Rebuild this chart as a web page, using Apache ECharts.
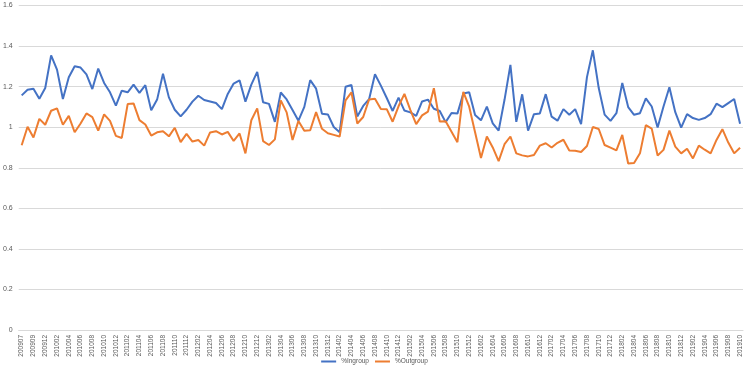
<!DOCTYPE html>
<html>
<head>
<meta charset="utf-8">
<script src="https://cdn.jsdelivr.net/npm/echarts@6/dist/echarts.min.js"></script>
<style>html,body{margin:0;padding:0;background:#fff}#c{width:749px;height:371px}</style>
</head>
<body>
<div id="c"></div>
<script>
const categories = [
"200907","200908","200909","200910","200912",
"201001","201002","201003","201004","201005","201006","201007","201008","201009","201010","201011","201012",
"201101","201102","201103","201104","201105","201106","201107","201108","201109","201110","201111","201112",
"201201","201202","201203","201204","201205","201206","201207","201208","201209","201210","201211","201212",
"201301","201302","201303","201304","201305","201306","201307","201308","201309","201310","201311","201312",
"201401","201402","201403","201404","201405","201406","201407","201408","201409","201410","201411","201412",
"201501","201502","201503","201504","201505","201506","201507","201508","201509","201510","201511","201512",
"201601","201602","201603","201604","201605","201606","201607","201608","201609","201610","201611","201612",
"201701","201702","201703","201704","201705","201706","201707","201708","201709","201710","201711","201712",
"201801","201802","201803","201804","201805","201806","201807","201808","201809","201810","201811","201812",
"201901","201902","201903","201904","201905","201906","201907","201908","201909","201910"
];
const ingroup = [
1.157,1.185,1.19,1.14,1.193,1.354,1.284,1.139,1.246,1.30,1.294,1.26,1.188,1.289,1.218,1.172,1.106,1.18,1.172,1.21,1.169,1.207,1.083,1.136,1.264,1.147,1.086,1.053,1.086,1.126,1.155,
1.134,1.127,1.119,1.089,1.164,1.215,1.231,1.126,1.21,1.273,1.123,1.115,1.026,1.171,1.137,1.085,1.032,1.10,1.232,1.19,1.066,1.063,1.001,0.975,1.199,1.208,1.053,1.105,1.138,1.261,
1.205,1.144,1.08,1.146,1.082,1.073,1.056,1.127,1.136,1.091,1.08,1.025,1.07,1.067,1.166,1.172,1.06,1.034,1.101,1.019,0.983,1.135,1.307,1.026,1.162,0.983,1.064,1.068,1.163,1.052,1.032,
1.089,1.061,1.089,1.015,1.247,1.379,1.193,1.062,1.031,1.069,1.218,1.099,1.061,1.069,1.142,1.102,0.998,1.102,1.197,1.074,0.998,1.064,1.045,1.036,1.045,1.064,1.116,1.099,1.119,1.139,1.017
];
const outgroup = [
0.911,1.002,0.949,1.041,1.012,1.081,1.093,1.012,1.056,0.975,1.018,1.068,1.05,0.983,1.063,1.031,0.957,0.947,1.114,1.117,1.035,1.013,0.959,0.975,0.98,0.955,0.997,0.926,0.967,0.929,0.937,
0.909,0.974,0.98,0.964,0.977,0.932,0.969,0.871,1.034,1.093,0.931,0.912,0.94,1.132,1.073,0.937,1.031,0.982,0.985,1.074,0.992,0.97,0.962,0.954,1.132,1.172,1.018,1.05,1.137,1.14,
1.09,1.089,1.027,1.103,1.164,1.085,1.015,1.058,1.077,1.192,1.028,1.029,0.978,0.926,1.174,1.101,0.975,0.848,0.954,0.9,0.833,0.916,0.954,0.871,0.861,0.856,0.863,0.909,0.921,0.9,0.923,
0.938,0.885,0.884,0.878,0.907,1.001,0.991,0.912,0.899,0.886,0.962,0.821,0.823,0.871,1.01,0.993,0.86,0.888,0.983,0.904,0.871,0.894,0.846,0.909,0.889,0.871,0.937,0.99,0.924,0.871,0.899
];
const seriesNames = ["%Ingroup", "%Outgroup"];

const chart = echarts.init(document.getElementById('c'), null, {renderer: 'canvas'});
const font = 'Liberation Sans, Arial, sans-serif';
chart.setOption({
  animation: false,
  backgroundColor: '#fff',
  grid: {left: 16, right: 6, top: 5.5, bottom: 41, containLabel: false},
  legend: {
    bottom: 1, left: 'center',
    itemWidth: 15, itemHeight: 2, itemGap: 6,
    textStyle: {fontFamily: font, fontSize: 6.5, color: '#595959'},
    data: seriesNames.map(n => ({name: n, icon: 'rect'}))
  },
  xAxis: {
    type: 'category',
    data: categories,
    boundaryGap: true,
    axisLine: {show: true, lineStyle: {color: '#d9d9d9', width: 1}},
    axisTick: {show: false},
    axisLabel: {rotate: 90, interval: 1, fontFamily: font, fontSize: 6.5, color: '#595959', margin: 5}
  },
  yAxis: {
    type: 'value', min: 0, max: 1.6, interval: 0.2,
    axisLine: {show: false}, axisTick: {show: false},
    splitLine: {lineStyle: {color: '#d9d9d9', width: 1}},
    axisLabel: {fontFamily: font, fontSize: 7, color: '#595959', margin: 6}
  },
  series: [
    {name: seriesNames[0], type: 'line', data: ingroup, symbol: 'none', lineStyle: {color: '#4472C4', width: 2}, itemStyle: {color: '#4472C4'}},
    {name: seriesNames[1], type: 'line', data: outgroup, symbol: 'none', lineStyle: {color: '#ED7D31', width: 2}, itemStyle: {color: '#ED7D31'}}
  ]
});
</script>
</body>
</html>
